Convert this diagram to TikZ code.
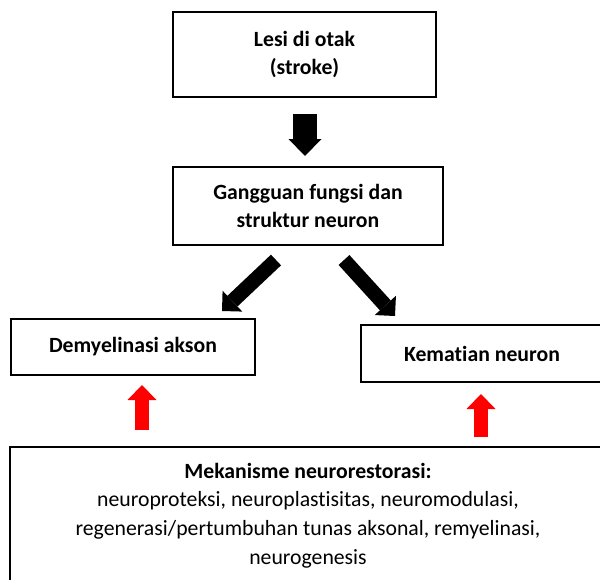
\documentclass[tikz,border=0pt]{standalone}
\usepackage{fontspec}
\setmainfont[Ligatures=NoCommon]{Carlito}
\usetikzlibrary{arrows.meta}
\tikzset{
  kotak/.style={draw, line width=1.5pt, align=center, font=\fontsize{16.3}{21.6}\selectfont, inner sep=2pt},
  panahhitam/.style={line width=18pt, -{Triangle[length=12.75pt, width=24.75pt, line width=0pt]}},
  panahmiring/.style={line width=11pt, -{Triangle[length=10.75pt, width=21.5pt, line width=0pt]}},
  panahmerah/.style={red, line width=10.5pt, -{Triangle[length=11.25pt, width=21.75pt, line width=0pt]}}
}
\begin{document}
\begin{tikzpicture}[x=0.75pt, y=-0.75pt]
	\useasboundingbox (0,0) rectangle (600,579);
	\clip (0,0) rectangle (600,579);
	\node[kotak, minimum width=197.25pt, minimum height=63.75pt] (lesi) at (304.5,54.5) {\bfseries Lesi di otak\\\bfseries (stroke)};
	\node[kotak, minimum width=202.5pt, minimum height=58.5pt] (gangguan) at (308,206) {\bfseries Gangguan fungsi dan\\\bfseries struktur neuron};
	\node[kotak, minimum width=183pt, minimum height=42pt] (demy) at (133,347) {\bfseries Demyelinasi akson};
	\node[kotak, minimum width=181.5pt, minimum height=42.75pt] (kematian) at (482,353.5) {\bfseries Kematian neuron};
	\node[kotak, minimum width=447pt, minimum height=102.75pt] (meka) at (308,515.5) {\bfseries Mekanisme neurorestorasi:\\neuroproteksi, neuroplastisitas, neuromodulasi,\\regenerasi/pertumbuhan tunas aksonal, remyelinasi,\\neurogenesis};
	\draw[panahhitam] ([shift={(0.5,16)}]lesi.south) -- ([shift={(-3,-10)}]gangguan.north);
	\draw[panahmiring] ([shift={(-32,14)}]gangguan.south) -- ([shift={(89,-7)}]demy.north);
	\draw[panahmiring] ([shift={(36,14)}]gangguan.south) -- ([shift={(-87,-8)}]kematian.north);
	\draw[panahmerah] ([shift={(-166,-16)}]meka.north) -- ([shift={(9,9)}]demy.south);
	\draw[panahmerah] ([shift={(173,-9)}]meka.north) -- ([shift={(-1,11)}]kematian.south);
\end{tikzpicture}
\end{document}
